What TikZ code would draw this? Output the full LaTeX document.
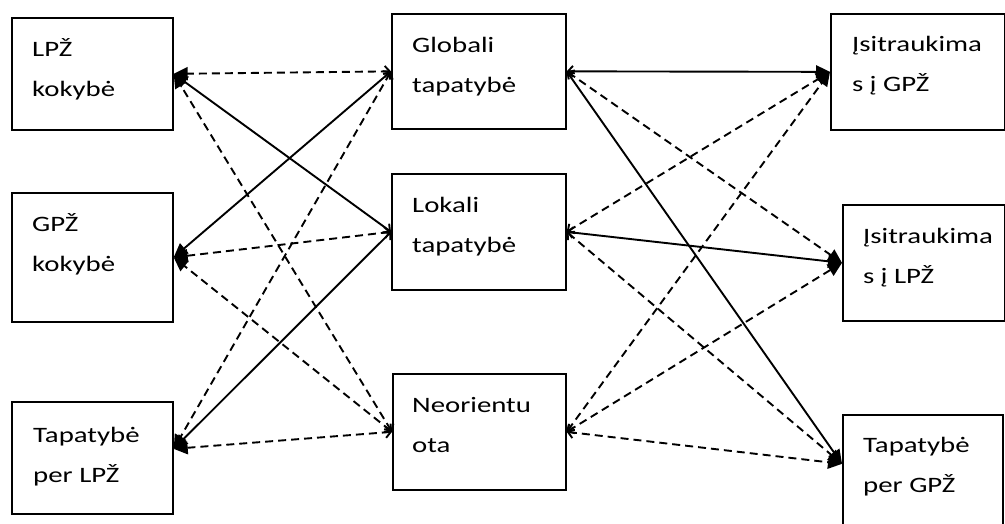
\documentclass[tikz,border=0pt]{standalone}
\usepackage{fontspec}
\setmainfont{Carlito}[FakeStretch=1.31]
\usetikzlibrary{arrows.meta}

\tikzset{
  box/.style={draw, line width=1.7pt, rectangle, anchor=north west, inner sep=0pt},
  txt/.style={font=\fontsize{22}{40}\selectfont, align=left, inner sep=0pt, anchor=base west},
  sl/.style={line width=1.9pt, {Straight Barb[length=5pt,width=11pt]}-{Triangle[length=14pt,width=13pt]}},
  dl/.style={sl, dash pattern=on 8pt off 5pt},
}

\begin{document}
\begin{tikzpicture}[x=1pt, y=-1pt]
    \useasboundingbox (0,0) rectangle (1005,523);

    % Left column
    \node[box, minimum width=161pt, minimum height=112pt] (lpz) at (11,17) {};
    \node[box, minimum width=161pt, minimum height=129pt] (gpz) at (11,192) {};
    \node[box, minimum width=161pt, minimum height=112pt] (tpl) at (11,401) {};
    \node[txt] (lpzt) at ([xshift=21pt,yshift=-79pt]lpz.north west) {LPŽ\\kokybė};
    \node[txt] (gpzt) at ([xshift=21pt,yshift=-79pt]gpz.north west) {GPŽ\\kokybė};
    \node[txt] (tplt) at ([xshift=22pt,yshift=-81pt]tpl.north west) {Tapatybė\\per LPŽ};

    % Middle column
    \node[box, minimum width=174pt, minimum height=115pt] (glob) at (391,13) {};
    \node[box, minimum width=174pt, minimum height=116pt] (lok) at (391,173) {};
    \node[box, minimum width=173pt, minimum height=116pt] (neo) at (392,373) {};
    \node[txt] (globt) at ([xshift=21pt,yshift=-79pt]glob.north west) {Globali\\tapatybė};
    \node[txt] (lokt) at ([xshift=21pt,yshift=-79pt]lok.north west) {Lokali\\tapatybė};
    \node[txt] (neot) at ([xshift=20pt,yshift=-79pt]neo.north west) {Neorientu\\ota};

    % Right column
    \node[box, minimum width=174pt, minimum height=116pt] (isg) at (830,13) {};
    \node[box, minimum width=162pt, minimum height=116pt] (isl) at (842,204) {};
    \node[box, minimum width=160pt, minimum height=116pt] (tpg) at (842,414) {};
    \node[txt] (isgt) at ([xshift=22pt,yshift=-78pt]isg.north west) {Įsitraukima\\s į GPŽ};
    \node[txt] (islt) at ([xshift=21pt,yshift=-79pt]isl.north west) {Įsitraukima\\s į LPŽ};
    \node[txt] (tpgt) at ([xshift=21pt,yshift=-78pt]tpg.north west) {Tapatybė\\per GPŽ};

    % Arrow ends on the two "Tapatybe per" boxes sit above the middle
    \coordinate (tplin) at ([yshift=9pt]tpl.east);
    \coordinate (tpgin) at ([yshift=9pt]tpg.west);

    % Links to the left
    \foreach \m/\o/\s in {glob/lpz.east/dl, lok/lpz.east/sl, neo/lpz.east/dl,
                          glob/gpz.east/sl, lok/gpz.east/dl, neo/gpz.east/dl,
                          glob/tplin/dl, lok/tplin/sl, neo/tplin/dl} {
        \draw[\s] (\m.west) -- (\o);
    }

    % Links to the right
    \foreach \m/\o/\s in {glob/isg.west/sl, glob/isl.west/dl, glob/tpgin/sl,
                          lok/isg.west/dl, lok/isl.west/sl, lok/tpgin/dl,
                          neo/isg.west/dl, neo/isl.west/dl, neo/tpgin/dl} {
        \draw[\s] (\m.east) -- (\o);
    }
\end{tikzpicture}
\end{document}
